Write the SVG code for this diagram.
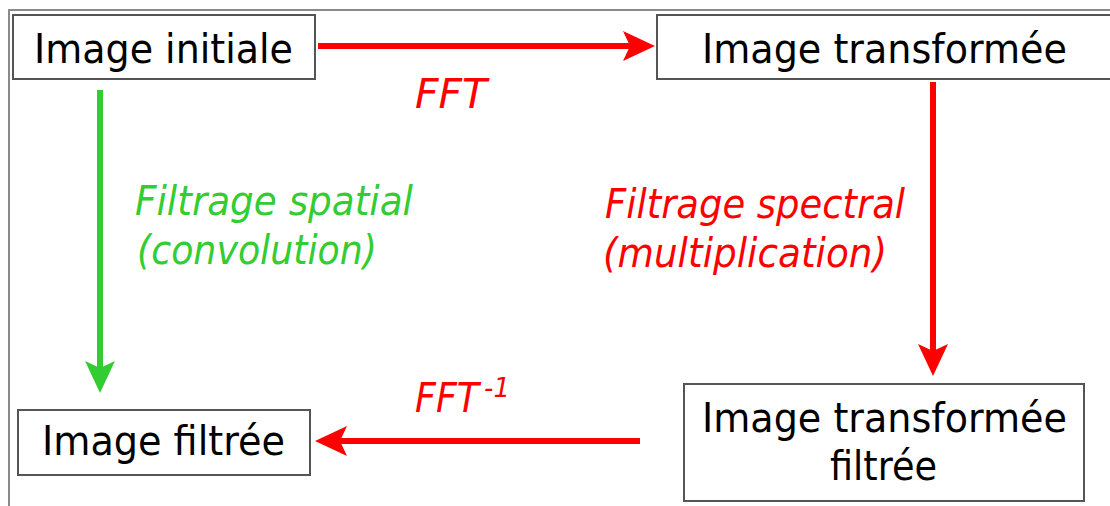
<svg xmlns="http://www.w3.org/2000/svg" width="1110" height="506" viewBox="0 0 1110 506">
  <style>
    .frame { fill: none; stroke: #8a8a8a; stroke-width: 2; }
    .box { fill: #ffffff; stroke: #555555; stroke-width: 2; }
    .lbl { font-family: "DejaVu Sans", Verdana, sans-serif; font-size: 40px; fill: #000000; }
    .note { font-family: "DejaVu Sans", Verdana, sans-serif; font-size: 41px; font-style: italic; }
    .sup { font-family: "DejaVu Sans", Verdana, sans-serif; font-size: 26px; font-style: italic; }
    .red { fill: #ff0000; }
    .green { fill: #33cc33; }
    .wire-red { stroke: #ff0000; stroke-width: 6; fill: none; }
    .wire-green { stroke: #33cc33; stroke-width: 6; fill: none; }
  </style>
  <defs>
    <marker id="head-red" viewBox="0 -15 32 30" refX="7" refY="0" markerWidth="32" markerHeight="30" markerUnits="userSpaceOnUse" orient="auto" overflow="visible">
      <path d="M0,-15 L32,0 L0,15 L7,0 Z" fill="#ff0000"/>
    </marker>
    <marker id="head-green" viewBox="0 -15 32 30" refX="7" refY="0" markerWidth="32" markerHeight="30" markerUnits="userSpaceOnUse" orient="auto" overflow="visible">
      <path d="M0,-15 L32,0 L0,15 L7,0 Z" fill="#33cc33"/>
    </marker>
  </defs>

  <rect width="1110" height="506" fill="#ffffff"/>
  <!-- outer frame: top and left edges -->
  <path class="frame" d="M9,506 V10 H1110"/>

  <g id="connectors">
    <line class="wire-red" x1="318" y1="46" x2="630" y2="46" marker-end="url(#head-red)"/>
    <line class="wire-red" x1="933" y1="82" x2="933" y2="351" marker-end="url(#head-red)"/>
    <line class="wire-red" x1="640" y1="441" x2="340" y2="441" marker-end="url(#head-red)"/>
    <line class="wire-green" x1="100" y1="90" x2="100" y2="368" marker-end="url(#head-green)"/>

    <text class="note red" x="415" y="108" textLength="72" lengthAdjust="spacingAndGlyphs">FFT</text>
    <text class="note red" x="415" y="412" textLength="64" lengthAdjust="spacingAndGlyphs">FFT</text>
    <text class="sup red" x="484" y="397">-1</text>
    <text class="note green" x="135" y="215" textLength="278" lengthAdjust="spacingAndGlyphs">Filtrage spatial</text>
    <text class="note green" x="137" y="264" textLength="240" lengthAdjust="spacingAndGlyphs">(convolution)</text>
    <text class="note red" x="605" y="218" textLength="300" lengthAdjust="spacingAndGlyphs">Filtrage spectral</text>
    <text class="note red" x="603" y="267" textLength="284" lengthAdjust="spacingAndGlyphs">(multiplication)</text>
  </g>

  <g id="image-initiale">
    <rect class="box" x="13" y="15" width="302" height="64"/>
    <text class="lbl" x="34" y="63" textLength="259" lengthAdjust="spacingAndGlyphs">Image initiale</text>
  </g>

  <g id="image-transformee">
    <rect class="box" x="657" y="15" width="460" height="64"/>
    <text class="lbl" x="702" y="63" textLength="365" lengthAdjust="spacingAndGlyphs">Image transformée</text>
  </g>

  <g id="image-transformee-filtree">
    <rect class="box" x="684" y="384" width="400" height="117"/>
    <text class="lbl" x="702" y="432" textLength="365" lengthAdjust="spacingAndGlyphs">Image transformée</text>
    <text class="lbl" x="830" y="480" textLength="107" lengthAdjust="spacingAndGlyphs">filtrée</text>
  </g>

  <g id="image-filtree">
    <rect class="box" x="18" y="410" width="292" height="65"/>
    <text class="lbl" x="42" y="455" textLength="243" lengthAdjust="spacingAndGlyphs">Image filtrée</text>
  </g>
</svg>
